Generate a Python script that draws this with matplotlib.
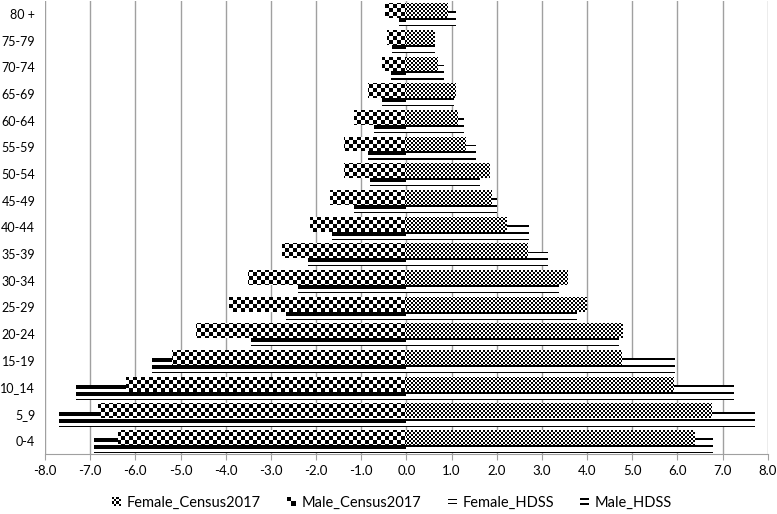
import numpy as np
import matplotlib.pyplot as plt
from matplotlib.path import Path
from matplotlib.patches import PathPatch
from matplotlib.legend_handler import HandlerBase
from matplotlib.image import BboxImage
from matplotlib.transforms import Bbox, TransformedBbox

plt.rcParams['font.family'] = ['Lato', 'DejaVu Sans']

# data (percent of population)
age_groups = ['0-4', '5_9', '10_14', '15-19', '20-24', '25-29', '30-34', '35-39',
              '40-44', '45-49', '50-54', '55-59', '60-64', '65-69', '70-74', '75-79', '80 +']
female_census = [6.38, 6.76, 5.93, 4.77, 4.79, 3.99, 3.58, 2.70, 2.22, 1.90,
                 1.85, 1.33, 1.14, 1.11, 0.70, 0.63, 0.92]
male_census = [-6.38, -6.82, -6.21, -5.19, -4.66, -3.92, -3.50, -2.76, -2.14, -1.70,
               -1.38, -1.39, -1.16, -0.86, -0.53, -0.43, -0.48]
female_hdss = [6.80, 7.72, 7.26, 5.95, 4.71, 3.78, 3.38, 3.14, 2.71, 2.00,
               1.63, 1.54, 1.28, 1.05, 0.83, 0.63, 1.11]
male_hdss = [-6.91, -7.70, -7.32, -5.63, -3.45, -2.66, -2.40, -2.17, -1.64, -1.15,
             -0.80, -0.84, -0.72, -0.54, -0.35, -0.31, -0.16]
xticks = np.arange(-8, 9, 1)

CEN_OFF, HDSS_OFF, BH = 0.12, -0.19, 0.56
GRID = '#a0a0a0'

fig = plt.figure(figsize=(7.77, 5.14), dpi=100)
ax = fig.add_axes([45 / 777, 60 / 514, 722.7 / 777, 453.5 / 514])
ax.set_xlim(-8, 8)
ax.set_ylim(-0.5, 16.5)

y = np.arange(len(age_groups))
# HDSS bars sit behind the census bars, shifted down
b_fh = ax.barh(y + HDSS_OFF, female_hdss, height=BH, color='none', lw=0)
b_mh = ax.barh(y + HDSS_OFF, male_hdss, height=BH, color='none', lw=0)
b_fc = ax.barh(y + CEN_OFF, female_census, height=BH, color='none', lw=0)
b_mc = ax.barh(y + CEN_OFF, male_census, height=BH, color='none', lw=0)

# pixel patterns (Excel style fills)
W, H = 723, 454
ii, jj = np.mgrid[0:H, 0:W]
small_check = ((ii // 2 + jj // 2) % 2 == 0)
large_check = ((ii // 4 + jj // 4) % 2 == 0)

span = 17.0
yd = 16.5 - (np.arange(H) + 0.5) * span / H
k = np.round(yd - HDSS_OFF)
off_px = np.floor((k + HDSS_OFF + BH / 2 - yd) * H / span)
thin_lines = np.repeat(((off_px % 7) < 2)[:, None], W, axis=1)
thick_lines = np.repeat(((off_px % 7) < 4)[:, None], W, axis=1)


def fill_bars(bars, mask, z):
    im = ax.imshow(mask.astype(float), cmap='gray_r', vmin=0, vmax=1,
                   interpolation='nearest', extent=(-8, 8, -0.5, 16.5),
                   aspect='auto', origin='upper', zorder=z)
    paths = [p.get_path().transformed(p.get_patch_transform()) for p in bars.patches]
    clip = PathPatch(Path.make_compound_path(*paths), transform=ax.transData)
    im.set_clip_path(clip)


fill_bars(b_fh, thin_lines, 1)
fill_bars(b_mh, thick_lines, 1)
fill_bars(b_fc, small_check, 2)
fill_bars(b_mc, large_check, 2)

ax.set_xlim(-8, 8)
ax.set_ylim(-0.5, 16.5)
ax.set_xticks(xticks)
ax.set_xticklabels([f'{v:.1f}' for v in xticks])
ax.set_yticks(y)
ax.set_yticklabels(age_groups)
ax.set_axisbelow(True)
ax.grid(axis='x', color=GRID, lw=1)
ax.grid(axis='y', visible=False)
for s in ['left', 'right', 'top']:
    ax.spines[s].set_visible(False)
ax.spines['bottom'].set_color(GRID)
ax.tick_params(axis='x', length=4, color=GRID, labelsize=9.5, pad=4)
ax.tick_params(axis='y', length=0, labelsize=9, pad=7)


class PatternHandler(HandlerBase):
    def __init__(self, arr):
        super().__init__()
        self.arr = arr

    def create_artists(self, legend, orig_handle, xdescent, ydescent,
                       width, height, fontsize, trans):
        side = min(width, height)
        x0 = -xdescent + (width - side) / 2
        y0 = -ydescent + (height - side) / 2
        bb = TransformedBbox(Bbox.from_bounds(x0, y0, side, side), trans)
        im = BboxImage(bb, cmap='gray_r', interpolation='nearest')
        im.set_data(self.arr)
        im.set_clim(0, 1)
        return [im]


pi, pj = np.mgrid[0:8, 0:8]
icon_small = ((pi // 2 + pj // 2) % 2 == 0).astype(float)
icon_large = ((pi // 4 + pj // 4) % 2 == 0).astype(float)
icon_thin = np.repeat(np.isin(np.arange(8), [2, 5])[:, None], 8, axis=1).astype(float)
icon_thick = np.repeat(np.isin(np.arange(8), [1, 2, 5, 6])[:, None], 8, axis=1).astype(float)

fig.legend([b_fc, b_mc, b_fh, b_mh],
           ['Female_Census2017', 'Male_Census2017', 'Female_HDSS', 'Male_HDSS'],
           handler_map={b_fc: PatternHandler(icon_small), b_mc: PatternHandler(icon_large),
                        b_fh: PatternHandler(icon_thin), b_mh: PatternHandler(icon_thick)},
           loc='center', bbox_to_anchor=(0.505, 0.021), ncol=4, frameon=False,
           fontsize=10.5, handlelength=0.6, handleheight=0.6, handletextpad=0.4,
           columnspacing=1.8)

fig.savefig('out.png', dpi=100)
